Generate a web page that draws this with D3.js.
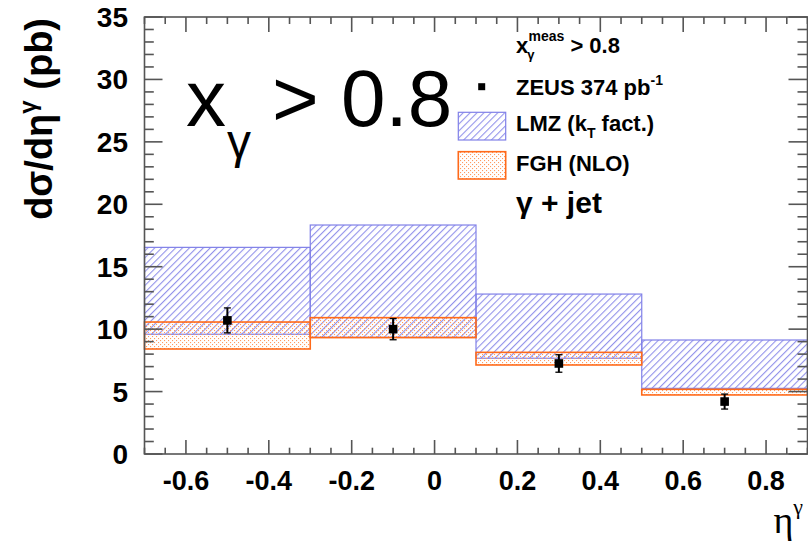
<!DOCTYPE html>
<html>
<head>
<meta charset="utf-8">
<script src="https://cdn.jsdelivr.net/npm/d3@7"></script>
<style>
  html, body { margin: 0; padding: 0; background: #fff; }
  svg { display: block; }
</style>
</head>
<body>
<script>
// Bin edges in eta^gamma and predicted cross-section bands (pb)
const binEdges = [-0.7, -0.3, 0.1, 0.5, 0.9];
const lmzHigh = [16.55, 18.34, 12.81, 9.13];
const lmzLow  = [9.59, 9.35, 7.67, 5.26];
const fghHigh = [10.57, 10.92, 8.14, 5.18];
const fghLow  = [8.41, 9.32, 7.13, 4.73];

// ZEUS measurement
const zeusEta  = [-0.5, -0.1, 0.3, 0.7];
const zeusXsec = [10.7, 10.0, 7.25, 4.2];
const zeusErr  = [1.0, 0.85, 0.7, 0.6];

// Axis ticks
const xTickLabels = [-0.6, -0.4, -0.2, 0, 0.2, 0.4, 0.6, 0.8];
const yTickLabels = [0, 5, 10, 15, 20, 25, 30, 35];

const W = 808, H = 548;
const svg = d3.select("body").append("svg").attr("width", W).attr("height", H);
svg.append("rect").attr("width", W).attr("height", H).attr("fill", "#fff");

const x = d3.scaleLinear().domain([-0.7, 0.9]).range([144.5, 807.5]);
const y = d3.scaleLinear().domain([0, 35]).range([454, 17]);

const defs = svg.append("defs");
// Diagonal hatch for LMZ band
const hatch = defs.append("pattern")
  .attr("id", "hatch").attr("patternUnits", "userSpaceOnUse")
  .attr("width", 4.9).attr("height", 10)
  .attr("patternTransform", "rotate(45)");
hatch.append("line").attr("x1", 0.6).attr("y1", 0).attr("x2", 0.6).attr("y2", 10)
  .attr("stroke", "#8686e8").attr("stroke-width", 1);
// Stipple for FGH band
const dots = defs.append("pattern")
  .attr("id", "dots").attr("patternUnits", "userSpaceOnUse")
  .attr("width", 4).attr("height", 4);
dots.append("rect").attr("x", 0).attr("y", 0).attr("width", 1.1).attr("height", 1.1).attr("fill", "#ff9a60");
dots.append("rect").attr("x", 2).attr("y", 2).attr("width", 1.1).attr("height", 1.1).attr("fill", "#ff9a60");

const bins = d3.range(binEdges.length - 1).map(i => ({
  x0: binEdges[i], x1: binEdges[i + 1],
  lh: lmzHigh[i], ll: lmzLow[i], fh: fghHigh[i], fl: fghLow[i]
}));

const plot = svg.append("g");

// LMZ band
plot.selectAll("rect.lmz").data(bins).join("rect").attr("class", "lmz")
  .attr("x", d => x(d.x0)).attr("width", d => x(d.x1) - x(d.x0))
  .attr("y", d => y(d.lh)).attr("height", d => y(d.ll) - y(d.lh))
  .attr("fill", "url(#hatch)").attr("stroke", "#8080e8").attr("stroke-width", 1.2);

// FGH band
plot.selectAll("rect.fgh").data(bins).join("rect").attr("class", "fgh")
  .attr("x", d => x(d.x0)).attr("width", d => x(d.x1) - x(d.x0))
  .attr("y", d => y(d.fh)).attr("height", d => y(d.fl) - y(d.fh))
  .attr("fill", "url(#dots)").attr("stroke", "#ff6a1a").attr("stroke-width", 1.6);

// Frame and ticks
const axisColor = "#555";
const frame = svg.append("g").attr("stroke", axisColor).attr("stroke-width", 1.6).attr("fill", "none");
frame.append("rect").attr("x", x(-0.7)).attr("y", y(35))
  .attr("width", x(0.9) - x(-0.7)).attr("height", y(0) - y(35));

const xMinor = d3.range(-0.7, 0.9001, 0.05).map(v => +v.toFixed(2));
xMinor.forEach(v => {
  const major = xTickLabels.some(t => Math.abs(t - v) < 1e-6);
  frame.append("line").attr("x1", x(v)).attr("x2", x(v))
    .attr("y1", y(0)).attr("y2", y(0) - (major ? 14 : 6.3));
  frame.append("line").attr("x1", x(v)).attr("x2", x(v))
    .attr("y1", y(35)).attr("y2", y(35) + (major ? 15 : 7));
});
d3.range(0, 36, 1).forEach(v => {
  const major = v % 5 === 0;
  frame.append("line").attr("y1", y(v)).attr("y2", y(v))
    .attr("x1", x(-0.7)).attr("x2", x(-0.7) + (major ? 18 : 9.3));
  frame.append("line").attr("y1", y(v)).attr("y2", y(v))
    .attr("x1", x(0.9)).attr("x2", x(0.9) - (major ? 19 : 10));
});

// Tick labels
const labelFont = "'Liberation Sans', Arial, Helvetica, sans-serif";
svg.append("g").selectAll("text").data(xTickLabels).join("text")
  .attr("x", d => x(d)).attr("y", 490)
  .attr("text-anchor", "middle")
  .attr("font-family", labelFont).attr("font-weight", "bold").attr("font-size", 27)
  .text(d => d3.format("")(d).replace("−", "-"));
svg.append("g").selectAll("text").data(yTickLabels).join("text")
  .attr("x", 128).attr("y", d => y(d) + 10)
  .attr("text-anchor", "end")
  .attr("font-family", labelFont).attr("font-weight", "bold").attr("font-size", 28)
  .text(d => d);

// ZEUS points
const pts = zeusEta.map((e, i) => ({ e, v: zeusXsec[i], err: zeusErr[i] }));
const pg = svg.append("g");
pg.selectAll("line.eb").data(pts).join("line").attr("class", "eb")
  .attr("x1", d => x(d.e)).attr("x2", d => x(d.e))
  .attr("y1", d => y(d.v + d.err)).attr("y2", d => y(d.v - d.err))
  .attr("stroke", "#000").attr("stroke-width", 2);
pg.selectAll("line.cu").data(pts).join("line").attr("class", "cu")
  .attr("x1", d => x(d.e) - 3.5).attr("x2", d => x(d.e) + 3.5)
  .attr("y1", d => y(d.v + d.err)).attr("y2", d => y(d.v + d.err))
  .attr("stroke", "#000").attr("stroke-width", 1.3);
pg.selectAll("line.cd").data(pts).join("line").attr("class", "cd")
  .attr("x1", d => x(d.e) - 3.5).attr("x2", d => x(d.e) + 3.5)
  .attr("y1", d => y(d.v - d.err)).attr("y2", d => y(d.v - d.err))
  .attr("stroke", "#000").attr("stroke-width", 1.3);
pg.selectAll("rect").data(pts).join("rect")
  .attr("x", d => x(d.e) - 4.3).attr("y", d => y(d.v) - 4.3)
  .attr("width", 8.6).attr("height", 8.6).attr("fill", "#000");

// Axis titles
const yt = svg.append("text")
  .attr("transform", "translate(52,18) rotate(-90)")
  .attr("text-anchor", "end")
  .attr("font-family", labelFont).attr("font-weight", "bold").attr("font-size", 38);
yt.append("tspan").text("dσ/dη");
yt.append("tspan").attr("font-size", 24).attr("dy", -16).text("γ");
yt.append("tspan").attr("dy", 16).text(" (pb)");

const xt = svg.append("text").attr("x", 803).attr("y", 533).attr("text-anchor", "end")
  .attr("font-family", "'Liberation Serif', 'Times New Roman', serif").attr("font-size", 38);
xt.append("tspan").text("η");
xt.append("tspan").attr("font-size", 22).attr("dy", -19).text("γ");

// Large cut label
const big = svg.append("g").attr("font-family", labelFont).attr("fill", "#000");
big.append("text").attr("x", 186).attr("y", 126).attr("font-size", 80).text("x");
big.append("text").attr("x", 227).attr("y", 158).attr("font-size", 48).text("γ");
big.append("text").attr("x", 272).attr("y", 126).attr("font-size", 80).text("> 0.8");

// Legend
const lg = svg.append("g").attr("font-family", labelFont).attr("font-weight", "bold").attr("font-size", 22);
const t1 = lg.append("text").attr("x", 516).attr("y", 53);
t1.append("tspan").text("x");
t1.append("tspan").attr("font-size", 13).attr("dy", 6).attr("dx", -1).text("γ");
t1.append("tspan").attr("font-size", 14).attr("dy", -18).attr("dx", -6).text("meas");
t1.append("tspan").attr("dy", 12).text(" > 0.8");

lg.append("rect").attr("x", 478.2).attr("y", 83.2).attr("width", 7).attr("height", 7).attr("fill", "#000");
const t2 = lg.append("text").attr("x", 516).attr("y", 95);
t2.append("tspan").text("ZEUS 374 pb");
t2.append("tspan").attr("font-size", 14).attr("dy", -10).text("-1");

lg.append("rect").attr("x", 458.3).attr("y", 112.3).attr("width", 47.4).attr("height", 27.7)
  .attr("fill", "url(#hatch)").attr("stroke", "#8080e8").attr("stroke-width", 1.2);
const t3 = lg.append("text").attr("x", 516).attr("y", 131);
t3.append("tspan").text("LMZ (k");
t3.append("tspan").attr("font-size", 14).attr("dy", 7).text("T");
t3.append("tspan").attr("dy", -7).text(" fact.)");

lg.append("rect").attr("x", 458.3).attr("y", 151.7).attr("width", 47.4).attr("height", 27.3)
  .attr("fill", "url(#dots)").attr("stroke", "#ff6a1a").attr("stroke-width", 1.6);
lg.append("text").attr("x", 516).attr("y", 171).text("FGH (NLO)");

lg.append("text").attr("x", 516).attr("y", 213).attr("font-size", 30).text("γ + jet");
</script>
</body>
</html>
